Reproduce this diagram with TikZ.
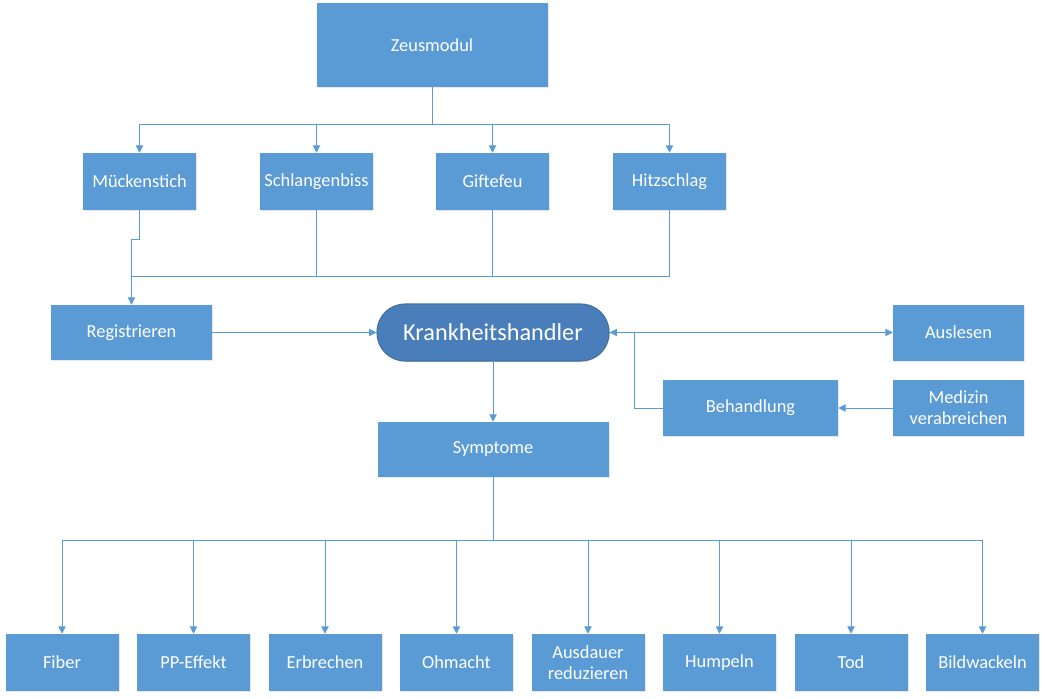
\documentclass[tikz,border=0pt]{standalone}
\usepackage{fontspec}
\setmainfont{Carlito}
\usetikzlibrary{arrows.meta,shadows}
\definecolor{boxblue}{HTML}{5B9BD5}
\definecolor{khblue}{HTML}{4A7EBB}
\definecolor{khborder}{HTML}{41719C}
\definecolor{lineblue}{HTML}{5B9BD5}
\tikzset{
  box/.style={rectangle, fill=boxblue, draw=none, text=white, inner sep=0pt, align=center,
    font=\fontsize{13.8}{16}\selectfont,
    drop shadow={opacity=0.18, shadow xshift=0.8pt, shadow yshift=-0.8pt}},
  small/.style={box, minimum width=84.75pt, minimum height=42.75pt},
  conn/.style={draw=lineblue, line width=0.75pt},
  arr/.style={conn, -{Triangle[length=5.5pt,width=5.5pt]}},
  darr/.style={conn, {Triangle[length=5.5pt,width=5.5pt]}-{Triangle[length=5.5pt,width=5.5pt]}},
}
\begin{document}
\begin{tikzpicture}[x=0.75pt,y=-0.75pt]
\useasboundingbox (0,0) rectangle (1045,699);
% top
\node[box, minimum width=173.25pt, minimum height=63pt] (zeus) at (432,45) {Zeusmodul};
\node[small] (m) at (139.5,181.5) {Mückenstich};
\node[small] (s) at (316.5,181.5) {Schlangenbiss};
\node[small] (g) at (492.5,181.5) {Giftefeu};
\node[small] (h) at (669.5,181.5) {Hitzschlag};
% middle
\node[box, minimum width=120.75pt, minimum height=41.25pt] (reg) at (131.5,332.5) {Registrieren};
\node[box, fill=khblue, draw=khborder, line width=0.8pt, rounded corners=21pt,
      minimum width=174pt, minimum height=42.75pt, font=\fontsize{18.2}{20}\selectfont] (kh) at (493,332.5) {Krankheitshandler};
\node[box, minimum width=98.25pt, minimum height=42pt] (aus) at (958.5,332.5) {Auslesen};
\node[box, minimum width=131.25pt, minimum height=42pt] (beh) at (750.5,408) {Behandlung};
\node[box, minimum width=98.25pt, minimum height=42pt] (med) at (958.5,408) {Medizin\\verabreichen};
\node[box, minimum width=173.25pt, minimum height=41.25pt] (sym) at (493,449.5) {Symptome};
% bottom
\node[small] (b1) at (62,662.5) {Fiber};
\node[small] (b2) at (193.5,662.5) {PP-Effekt};
\node[small] (b3) at (325,662.5) {Erbrechen};
\node[small] (b4) at (456.5,662.5) {Ohmacht};
\node[small] (b5) at (588,662.5) {Ausdauer\\reduzieren};
\node[small] (b6) at (719.5,662.5) {Humpeln};
\node[small] (b7) at (851,662.5) {Tod};
\node[small] (b8) at (982.5,662.5) {Bildwackeln};
% top connectors
\coordinate (zt) at (432,124);
\draw[conn] (zeus.south) -- (zt);
\draw[conn] (m.north |- zt) -- (h.north |- zt);
\foreach \n in {m,s,g,h} \draw[arr] (\n.north |- zt) -- (\n.north);
\coordinate (jog) at (139.5,239);
\coordinate (jn) at (131.5,276);
\draw[arr] (m.south) -- (jog) -- (jog -| reg.north) -- (reg.north);
\draw[conn] (jn) -- (h.south |- jn);
\foreach \n in {s,g,h} \draw[conn] (\n.south) -- (\n.south |- jn);
% middle connectors
\draw[arr] (reg.east) -- (kh.west);
\draw[darr] (kh.east) -- (aus.west);
\coordinate (bk) at (634.5,332.5);
\draw[conn] (beh.west) -| (bk);
\draw[arr] (med.west) -- (beh.east);
\draw[arr] (kh.south) -- (sym.north);
% bottom connectors
\coordinate (sb) at (493,540);
\draw[conn] (sym.south) -- (sb);
\draw[conn] (b1.north |- sb) -- (b8.north |- sb);
\foreach \n in {b1,b2,b3,b4,b5,b6,b7,b8} \draw[arr] (\n.north |- sb) -- (\n.north);
\end{tikzpicture}
\end{document}
